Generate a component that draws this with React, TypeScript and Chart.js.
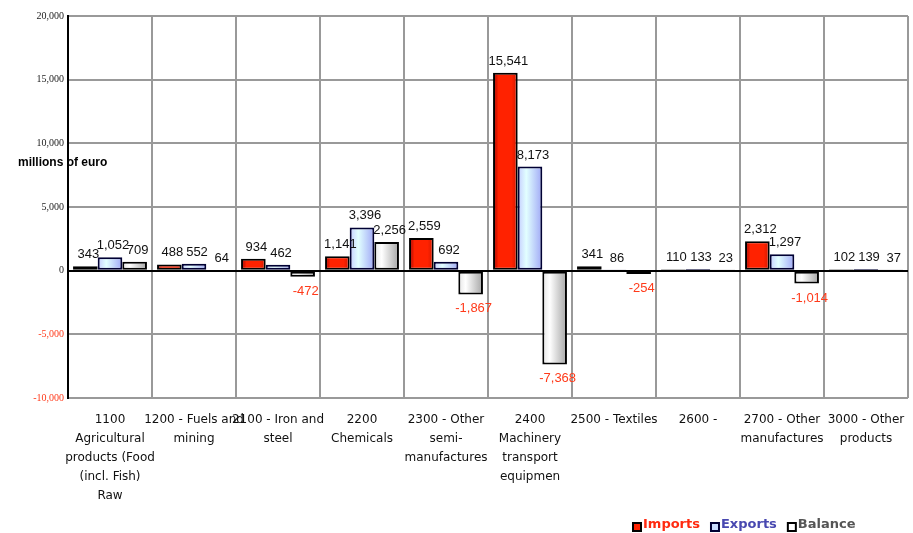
import React, { useEffect, useRef } from "react";
import { Chart, registerables } from "chart.js";

Chart.register(...registerables);

// Product groups (multi-line axis labels)
const categories: string[][] = [
  ["1100", "Agricultural", "products (Food", "(incl. Fish)", "Raw"],
  ["1200 - Fuels and", "mining"],
  ["2100 - Iron and", "steel"],
  ["2200", "Chemicals"],
  ["2300 - Other", "semi-", "manufactures"],
  ["2400", "Machinery", "transport", "equipmen"],
  ["2500 - Textiles"],
  ["2600 -"],
  ["2700 - Other", "manufactures"],
  ["3000 - Other", "products"],
];

// millions of euro
const importsValues = [343, 488, 934, 1141, 2559, 15541, 341, 110, 2312, 102];
const exportsValues = [1052, 552, 462, 3396, 692, 8173, 86, 133, 1297, 139];
const balanceValues = [709, 64, -472, 2256, -1867, -7368, -254, 23, -1014, 37];

const seriesNames = ["Imports", "Exports", "Balance"];
const yMin = -10000;
const yMax = 20000;
const yStep = 5000;
const unitLabel = "millions of euro";

const CATEGORY_PCT = 0.88;
const NEG_RED = "#ff3a1a";

type Stop = [number, string];

const importStops: Stop[] = [
  [0, "#9a0000"],
  [0.22, "#ff2200"],
  [0.75, "#ff2200"],
  [1, "#d01800"],
];
const exportStops: Stop[] = [
  [0, "#c4ccff"],
  [0.35, "#e2ffff"],
  [1, "#a0a8f6"],
];
const balanceStops: Stop[] = [
  [0, "#e4e4e4"],
  [0.3, "#ffffff"],
  [1, "#a4a4a4"],
];

// Horizontal shading across each bar's own width
function barGradient(stops: Stop[], fallback: string) {
  return (ctx: any) => {
    const chart = ctx.chart;
    const xs = chart.scales && chart.scales.x;
    if (ctx.type !== "data" || !xs || !chart.chartArea) return fallback;
    const catW = xs.width / categories.length;
    const barW = (catW * CATEGORY_PCT) / 3;
    const cx = xs.getPixelForValue(ctx.dataIndex) + (ctx.datasetIndex - 1) * barW;
    const g = chart.ctx.createLinearGradient(cx - barW / 2, 0, cx + barW / 2, 0);
    stops.forEach(([o, c]) => g.addColorStop(o, c));
    return g;
  };
}

const valueLabels = {
  id: "valueLabels",
  afterDatasetsDraw(chart: any) {
    const { ctx } = chart;
    ctx.save();
    ctx.font = "13px 'Liberation Sans', Arial, sans-serif";
    ctx.textAlign = "center";
    ctx.textBaseline = "alphabetic";
    chart.data.datasets.forEach((ds: any, di: number) => {
      const meta = chart.getDatasetMeta(di);
      meta.data.forEach((el: any, i: number) => {
        const v = ds.data[i] as number;
        const txt = v.toLocaleString("en-US");
        if (v >= 0) {
          ctx.fillStyle = "#111";
          ctx.fillText(txt, el.x + 3, el.y - 8);
        } else {
          ctx.fillStyle = NEG_RED;
          ctx.fillText(txt, el.x + 3, el.y + 18);
        }
      });
    });
    ctx.restore();
  },
};

const unitTitle = {
  id: "unitTitle",
  afterDraw(chart: any) {
    const { ctx } = chart;
    ctx.save();
    ctx.font = "bold 12px 'Liberation Sans', Arial, sans-serif";
    ctx.fillStyle = "#000";
    ctx.textAlign = "left";
    ctx.textBaseline = "middle";
    ctx.fillText(unitLabel, 18, 163);
    ctx.restore();
  },
};

const seriesKey = {
  id: "seriesKey",
  afterDraw(chart: any) {
    const { ctx } = chart;
    const fills = ["#ff2200", "#c8dcff", "#ffffff"];
    const strokes = ["#000", "#000033", "#000"];
    const textColors = ["#ff2a10", "#4848b0", "#555555"];
    ctx.save();
    ctx.font = "bold 13px 'DejaVu Sans', sans-serif";
    ctx.textBaseline = "middle";
    ctx.textAlign = "left";
    let x = 632;
    const y = 525;
    seriesNames.forEach((name, i) => {
      ctx.fillStyle = fills[i];
      ctx.fillRect(x, y - 3, 10, 10);
      ctx.lineWidth = 2;
      ctx.strokeStyle = strokes[i];
      ctx.strokeRect(x + 1, y - 2, 8, 8);
      ctx.fillStyle = textColors[i];
      ctx.fillText(name, x + 11, y);
      x += 11 + ctx.measureText(name).width + 10;
    });
    ctx.restore();
  },
};

export default function App() {
  const canvasRef = useRef<HTMLCanvasElement | null>(null);

  useEffect(() => {
    if (!canvasRef.current) return;
    const chart = new Chart(canvasRef.current, {
      type: "bar",
      data: {
        labels: categories as any,
        datasets: [
          {
            label: seriesNames[0],
            data: importsValues,
            backgroundColor: barGradient(importStops, "#ff2200") as any,
            borderColor: "#000",
            borderWidth: 2,
            borderSkipped: false,
          },
          {
            label: seriesNames[1],
            data: exportsValues,
            backgroundColor: barGradient(exportStops, "#c8dcff") as any,
            borderColor: "#000033",
            borderWidth: 2,
            borderSkipped: false,
          },
          {
            label: seriesNames[2],
            data: balanceValues,
            backgroundColor: barGradient(balanceStops, "#eeeeee") as any,
            borderColor: "#000",
            borderWidth: 2,
            borderSkipped: false,
          },
        ],
      },
      options: {
        responsive: false,
        animation: false,
        events: [],
        layout: { padding: { top: 16, left: 8, right: 5, bottom: 0 } },
        datasets: {
          bar: { categoryPercentage: CATEGORY_PCT, barPercentage: 1 },
        },
        plugins: {
          legend: { display: false },
          tooltip: { enabled: false },
        },
        scales: {
          x: {
            offset: true,
            grid: {
              offset: true,
              color: (c: any) => (c.index === 0 ? "rgba(0,0,0,0)" : "#999999"),
              lineWidth: 2,
              drawTicks: false,
            },
            border: { display: false },
            ticks: {
              autoSkip: false,
              maxRotation: 0,
              padding: 12,
              color: "#111",
              font: { family: "'DejaVu Sans', sans-serif", size: 12, lineHeight: 19 / 12 },
            },
            afterFit: (s: any) => {
              s.height = 135;
              s.paddingLeft = 0;
              s.paddingRight = 0;
            },
          },
          y: {
            min: yMin,
            max: yMax,
            grid: {
              color: (c: any) => (c.tick && c.tick.value === 0 ? "#000000" : "#999999"),
              lineWidth: 2,
              drawTicks: false,
            },
            border: { color: "#000", width: 2 },
            ticks: {
              stepSize: yStep,
              padding: 4,
              color: (c: any) => (c.tick && c.tick.value < 0 ? NEG_RED : "#222"),
              font: { family: "'Liberation Serif', 'Times New Roman', serif", size: 10 },
              callback: (v: any) => Number(v).toLocaleString("en-US"),
            },
            afterFit: (s: any) => {
              s.width = 60;
            },
          },
        },
      },
      plugins: [valueLabels, unitTitle, seriesKey],
    });
    return () => chart.destroy();
  }, []);

  return (
    <div style={{ position: "fixed", left: 0, top: 0, width: 913, height: 533, background: "#fff" }}>
      <canvas ref={canvasRef} width={913} height={533} style={{ display: "block" }} />
    </div>
  );
}
